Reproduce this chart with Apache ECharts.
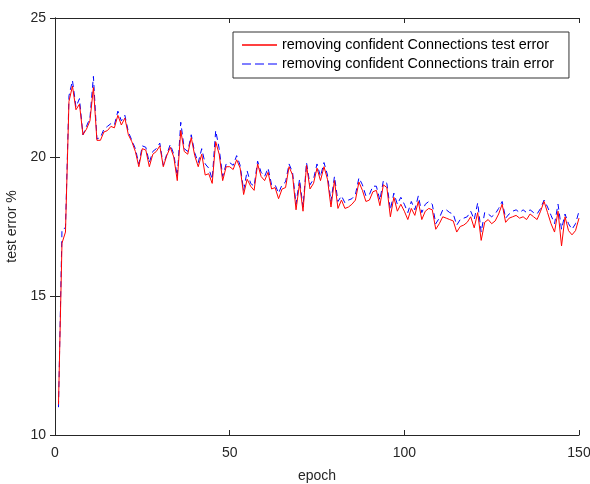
<!doctype html>
<meta charset="utf-8">
<style>
  html, body { margin: 0; height: 100%; background: #fff; }
  #chart { width: 590px; height: 484px; }
</style>
<script src="https://cdn.jsdelivr.net/npm/echarts@6/dist/echarts.min.js"></script>
<div id="chart"></div>
<script>
  const testErr = [
    11.1, 16.9, 17.3, 22.0, 22.55, 21.7, 21.9, 20.8, 21.0, 21.3,
    22.5, 20.6, 20.6, 20.9, 20.95, 21.1, 21.05, 21.5, 21.15, 21.4,
    20.8, 20.55, 20.2, 19.65, 20.3, 20.25, 19.65, 20.1, 20.2, 20.4,
    19.65, 20.05, 20.35, 20.0, 19.15, 20.95, 20.2, 20.1, 20.7, 20.05,
    19.65, 20.1, 19.35, 19.4, 19.05, 20.55, 20.1, 19.15, 19.65, 19.65,
    19.55, 19.9, 19.6, 18.65, 19.2, 18.95, 18.8, 19.75, 19.3, 19.15,
    19.45, 18.85, 18.9, 18.5, 18.85, 18.9, 19.65, 19.35, 18.1, 19.05,
    18.05, 19.7, 18.85, 19.05, 19.6, 19.15, 19.65, 19.2, 18.2, 19.15,
    18.15, 18.45, 18.15, 18.2, 18.3, 18.45, 19.1, 18.8, 18.4, 18.45,
    18.75, 18.8, 18.25, 19.0, 18.9, 17.85, 18.55, 18.05, 18.3, 18.05,
    17.75, 18.15, 17.9, 18.4, 17.75, 18.05, 18.15, 18.1, 17.4, 17.6,
    17.85, 17.8, 17.75, 17.7, 17.3, 17.5, 17.55, 17.65, 17.85, 17.45,
    18.0, 17.0, 17.65, 17.75, 17.6, 17.7, 17.95, 18.3, 17.65, 17.8,
    17.85, 17.9, 17.8, 17.85, 17.75, 17.95, 17.85, 17.75, 18.05, 18.4,
    18.0, 17.6, 17.3, 18.05, 16.8, 17.85, 17.35, 17.2, 17.35, 17.8
  ]
  const trainErr = [
    11.0, 17.4, 17.45, 22.2, 22.75, 21.8, 22.1, 20.8, 21.1, 21.4,
    22.9, 20.65, 20.7, 21.0, 21.1, 21.2, 21.15, 21.65, 21.3, 21.5,
    20.9, 20.6, 20.3, 19.75, 20.4, 20.35, 19.8, 20.2, 20.3, 20.5,
    19.7, 20.1, 20.45, 20.1, 19.3, 21.25, 20.3, 20.2, 20.8, 20.15,
    19.8, 20.3, 19.75, 19.6, 19.2, 20.95, 20.3, 19.3, 19.75, 19.8,
    19.7, 20.05, 19.7, 18.8, 19.5, 19.05, 18.95, 19.85, 19.45, 19.3,
    19.6, 19.0, 19.0, 18.7, 19.0, 19.1, 19.75, 19.45, 18.3, 19.2,
    18.2, 19.8, 19.0, 19.2, 19.75, 19.3, 19.8, 19.35, 18.4, 19.3,
    18.4, 18.6, 18.35, 18.45, 18.5, 18.65, 19.25, 19.0, 18.6, 18.65,
    18.95, 18.95, 18.45, 19.15, 19.05, 18.1, 18.7, 18.3, 18.55, 18.3,
    18.0, 18.4, 18.1, 18.6, 18.0, 18.3, 18.4, 18.3, 17.6, 17.8,
    18.1, 18.1, 18.0, 17.95, 17.55, 17.75, 17.8, 17.85, 18.05, 17.75,
    18.35, 17.3, 18.0, 17.95, 17.85, 17.95, 18.15, 18.4, 17.8, 17.95,
    18.05, 18.1, 18.0, 18.1, 18.0, 18.1, 18.0, 17.95, 18.15, 18.45,
    18.2, 17.9, 17.6, 18.3, 17.4, 17.95, 17.6, 17.4, 17.6, 18.05
  ]
  const epochs = testErr.map((v, i) => i + 1)
  const seriesNames = ['removing confident Connections test error', 'removing confident Connections train error']

  const axisColor = '#262626'
  const font = 'Liberation Sans, Arial, sans-serif'
  let chart = echarts.init(document.getElementById('chart'))

  const frameAxis = {
    axisLine: { show: true, lineStyle: { color: axisColor, width: 1 } },
    axisTick: { show: true, inside: true, length: 5, lineStyle: { color: axisColor } },
    splitLine: { show: false },
  }

  chart.setOption({
    animation: false,
    grid: { left: 55, right: 11, top: 18, bottom: 49, containLabel: false, outerBoundsMode: 'none' },
    legend: {
      left: 233,
      top: 32,
      orient: 'vertical',
      padding: [6, 15, 7, 9],
      itemGap: 5,
      itemWidth: 35,
      itemHeight: 1.5,
      borderColor: '#333',
      borderWidth: 1,
      backgroundColor: '#fff',
      textStyle: { fontFamily: font, fontSize: 14.4, color: '#000' },
      itemStyle: { borderWidth: 0 },
      data: [
        { name: seriesNames[0], icon: 'rect' },
        // three dashes for the dashed series
        { name: seriesNames[1], icon: 'path://M0,0h9v1h-9zM13,0h9v1h-9zM26,0h9v1h-9z' },
      ],
    },
    xAxis: [{
      type: 'value', min: 0, max: 150, interval: 50,
      name: 'epoch', nameLocation: 'middle', nameGap: 34,
      nameTextStyle: { fontFamily: font, fontSize: 14, color: '#262626' },
      axisLabel: { fontFamily: font, fontSize: 14, color: '#262626', margin: 11 },
      ...frameAxis,
    }, {
      type: 'value', min: 0, max: 150, interval: 50, position: 'top',
      axisLabel: { show: false },
      ...frameAxis,
    }],
    yAxis: [{
      type: 'value', min: 10, max: 25, interval: 5,
      name: 'test error %', nameLocation: 'middle', nameGap: 28,
      nameTextStyle: { fontFamily: font, fontSize: 14, color: '#262626' },
      axisLabel: { fontFamily: font, fontSize: 14, color: '#262626', margin: 9 },
      ...frameAxis,
    }, {
      type: 'value', min: 10, max: 25, interval: 5, position: 'right',
      axisLabel: { show: false },
      ...frameAxis,
    }],
    series: [{
      name: seriesNames[0],
      type: 'line',
      data: epochs.map((e, i) => [e, testErr[i]]),
      symbol: 'none',
      lineStyle: { color: '#ff0000', width: 1 },
      itemStyle: { color: '#ff0000' },
      z: 3,
    }, {
      name: seriesNames[1],
      type: 'line',
      data: epochs.map((e, i) => [e, trainErr[i]]),
      symbol: 'none',
      lineStyle: { color: '#0000ff', width: 1, type: [6, 4] },
      itemStyle: { color: '#0000ff' },
      z: 2,
    }],
  })
</script>
